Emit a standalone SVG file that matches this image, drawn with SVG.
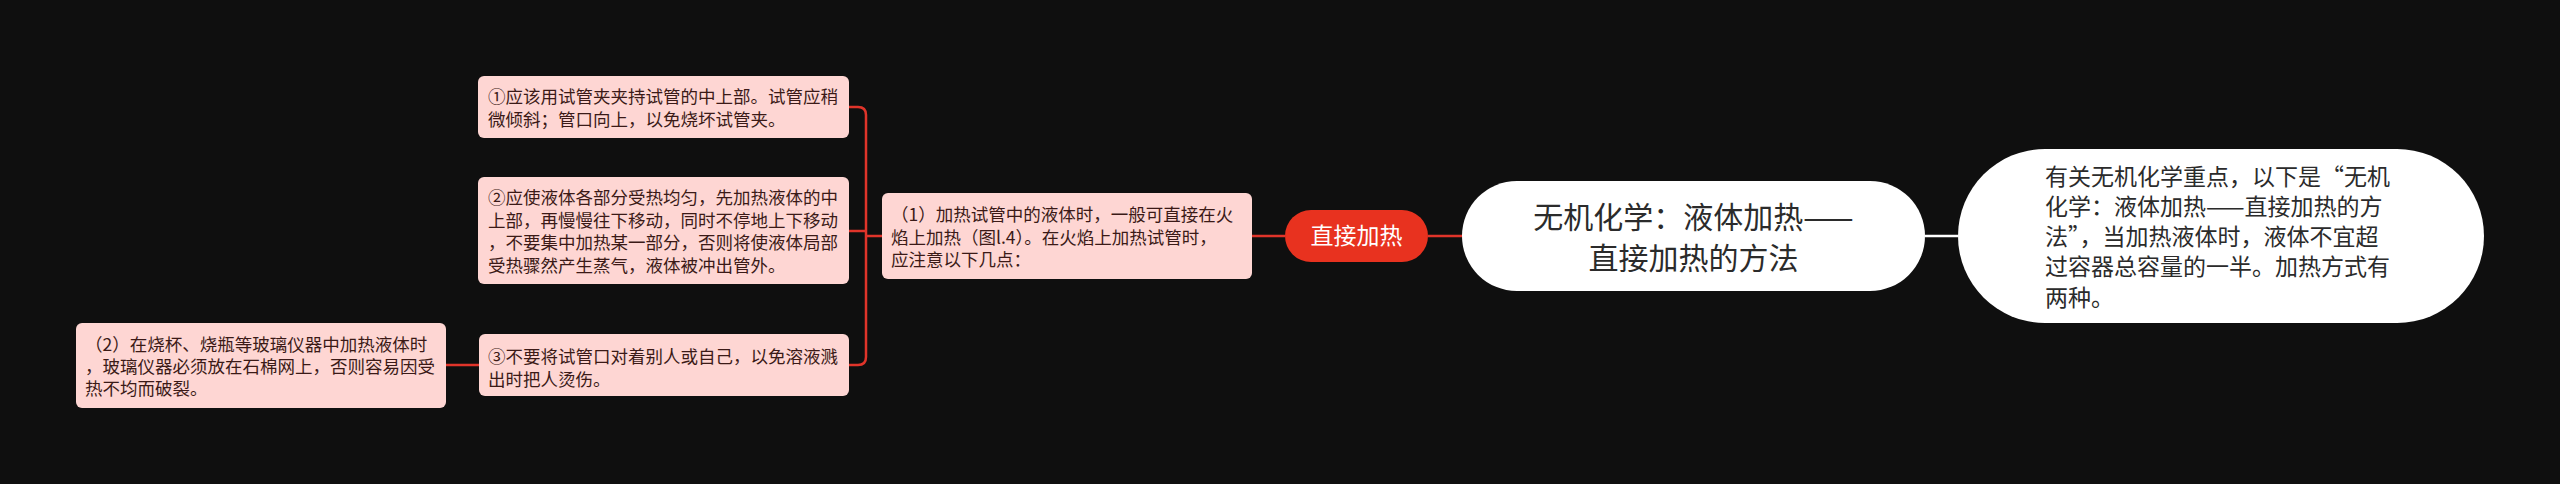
<svg xmlns="http://www.w3.org/2000/svg" width="2560" height="484" viewBox="0 0 2560 484">
<style>
.bg{fill:#0f0f0f}
.pink{fill:#fed6d3;stroke:none}
.pt{font-family:"Noto Sans CJK SC","Noto Sans",sans-serif;font-size:17.5px;fill:#3b1a17}
.conn{fill:none;stroke:#e0342a;stroke-width:2.5}
.wconn{fill:none;stroke:#ffffff;stroke-width:2.5}
.ct{font-family:"Noto Sans CJK SC","Noto Sans",sans-serif;font-size:30px;fill:#2b2b2b;text-anchor:middle}
.rt{font-family:"Noto Sans CJK SC","Noto Sans",sans-serif;font-size:23px;fill:#2b2b2b}
.redt{font-family:"Noto Sans CJK SC","Noto Sans",sans-serif;font-size:23px;fill:#ffffff;text-anchor:middle}
</style>
<rect class="bg" x="0" y="0" width="2560" height="484"/>
<g id="connectors">
  <path class="conn" d="M849,107 H858 Q866,107 866,115 V357 Q866,365 858,365 H849"/>
  <path class="conn" d="M849,231 H866"/>
  <path class="conn" d="M866,236 H882"/>
  <path class="conn" d="M479,365 H446"/>
  <path class="conn" d="M1252,236 H1285"/>
  <path class="conn" d="M1428,236 H1462"/>
  <path class="wconn" d="M1925,236 H1958"/>
</g>
<g id="node-root">
  <rect x="1462" y="181" width="463" height="110" rx="55" fill="#ffffff"/>
  <text class="ct" x="1693.5" y="227.5">无机化学：液体加热——</text>
  <text class="ct" x="1693.5" y="268.5">直接加热的方法</text>
</g>
<g id="node-summary">
  <rect x="1958" y="149" width="526" height="174" rx="87" fill="#ffffff"/>
  <text class="rt" x="2045" y="185">有关无机化学重点，以下是“无机</text>
  <text class="rt" x="2045" y="215">化学：液体加热——直接加热的方</text>
  <text class="rt" x="2045" y="245">法”，当加热液体时，液体不宜超</text>
  <text class="rt" x="2045" y="275">过容器总容量的一半。加热方式有</text>
  <text class="rt" x="2045" y="306">两种。</text>
</g>
<g id="node-direct">
  <rect x="1285" y="210" width="143" height="52" rx="26" fill="#e8321f"/>
  <text class="redt" x="1356.5" y="244">直接加热</text>
</g>
<g id="node-1">
  <rect class="pink" x="882" y="193" width="370" height="86" rx="6"/>
  <text class="pt" x="891" y="221">（1）加热试管中的液体时，一般可直接在火</text>
  <text class="pt" x="891" y="244">焰上加热（图l.4）。在火焰上加热试管时，</text>
  <text class="pt" x="891" y="266">应注意以下几点：</text>
</g>
<g id="node-a">
  <rect class="pink" x="478" y="76" width="371" height="62" rx="6"/>
  <text class="pt" x="488" y="103">①应该用试管夹夹持试管的中上部。试管应稍</text>
  <text class="pt" x="488" y="126">微倾斜；管口向上，以免烧坏试管夹。</text>
</g>
<g id="node-b">
  <rect class="pink" x="478" y="177" width="371" height="107" rx="6"/>
  <text class="pt" x="488" y="204">②应使液体各部分受热均匀，先加热液体的中</text>
  <text class="pt" x="488" y="226.5">上部，再慢慢往下移动，同时不停地上下移动</text>
  <text class="pt" x="488" y="249">，不要集中加热某一部分，否则将使液体局部</text>
  <text class="pt" x="488" y="271.5">受热骤然产生蒸气，液体被冲出管外。</text>
</g>
<g id="node-c">
  <rect class="pink" x="479" y="334" width="370" height="62" rx="6"/>
  <text class="pt" x="488" y="363">③不要将试管口对着别人或自己，以免溶液溅</text>
  <text class="pt" x="488" y="386">出时把人烫伤。</text>
</g>
<g id="node-2">
  <rect class="pink" x="76" y="323" width="370" height="85" rx="6"/>
  <text class="pt" x="85" y="351">（2）在烧杯、烧瓶等玻璃仪器中加热液体时</text>
  <text class="pt" x="85" y="373">，玻璃仪器必须放在石棉网上，否则容易因受</text>
  <text class="pt" x="85" y="395">热不均而破裂。</text>
</g>
</svg>
